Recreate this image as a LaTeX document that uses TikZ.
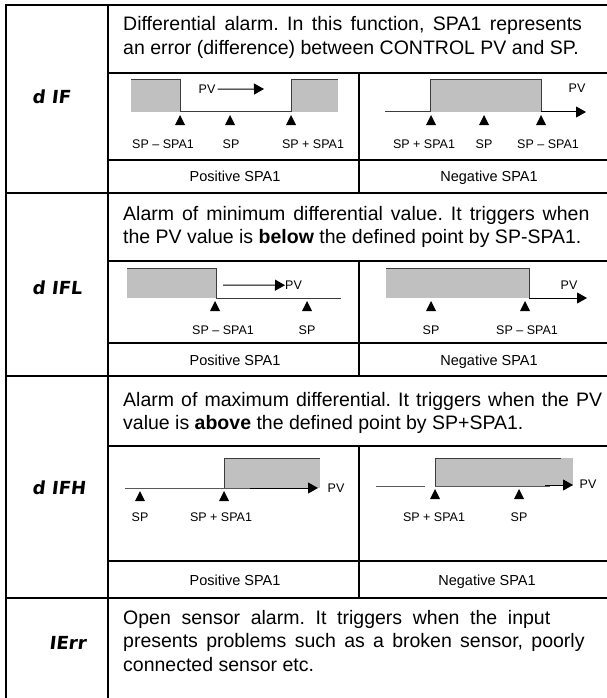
\documentclass[tikz,border=0pt]{standalone}
\usepackage{fontspec}
\setmainfont{Liberation Sans}
\newfontfamily\segfont[FakeSlant=0.12]{DejaVu Sans}
\usetikzlibrary{arrows.meta}

\definecolor{bandgray}{RGB}{192,192,192}
\definecolor{stepline}{RGB}{60,60,60}

% settings for the fully justified description paragraphs
\newcommand\justsetup{\frenchspacing\tolerance=10000\relax\hbadness=10000\relax
  \leftskip=0pt\relax\rightskip=0pt\relax\parfillskip=0pt plus 1fil\relax
  \spaceskip=0pt\relax\xspaceskip=0pt\relax}

\begin{document}
\begin{tikzpicture}[x=1pt,y=-1pt,
  tablerule/.style={line width=2pt},
  bandfill/.style={fill=bandgray},
  stepln/.style={draw=stepline, line width=1pt},
  baseln/.style={draw=stepline!85, line width=0.8pt},
  pvarrow/.style={draw=black, line width=1pt, -{Triangle[length=10pt,width=11pt]}},
  desctext/.style={anchor=base west, inner sep=0pt, text width=503pt,
    font=\fontsize{19.5}{23.5}\selectfont},
  ticklbl/.style={anchor=base, inner sep=0pt, font=\fontsize{12.5}{14}\selectfont},
  signlbl/.style={anchor=base, inner sep=0pt, font=\fontsize{14.5}{16}\selectfont},
  codelbl/.style={anchor=base west, inner sep=0pt, font=\segfont\bfseries\fontsize{18}{20}\selectfont},
  pics/tri/.style={code={\fill (-5,10) -- (0,0) -- (5,10) -- cycle;}}
]
\useasboundingbox (0,0) rectangle (606,698);

% ---- table rules ----
\draw[tablerule] (6,710) -- (6,5) -- (620,5);
\draw[tablerule] (108,5) -- (108,710);
\draw[tablerule] (6,193) -- (620,193);
\draw[tablerule] (6,376) -- (620,376);
\draw[tablerule] (6,598) -- (620,598);
% row dIF
\draw[tablerule] (108,73) -- (620,73);
\draw[tablerule] (108,160) -- (620,160);
\draw[tablerule] (359,73) -- (359,193);
% row dIFL
\draw[tablerule] (108,261) -- (620,261);
\draw[tablerule] (108,343) -- (620,343);
\draw[tablerule] (359,261) -- (359,376);
% row dIFH
\draw[tablerule] (108,446) -- (620,446);
\draw[tablerule] (108,561) -- (620,561);
\draw[tablerule] (359,446) -- (359,598);

% ---- function codes ----
\node[codelbl] (codeA) at (32,103.5) {d IF};
\node[codelbl] (codeB) at (32,294.5) {d IFL};
\node[codelbl] (codeC) at (32,494.5) {d IFH};
\node[codelbl] (codeD) at (49,649.5) {IErr};

% ---- descriptions ----
\node[desctext] (descA) at (123,31) {\justsetup Differential alarm. In this function, SPA1 represents\linebreak an error (difference) between CONTROL PV and SP.};
\node[desctext] (descB) at (123,220) {\justsetup Alarm of minimum differential value. It triggers when\linebreak the PV value is \textbf{below} the defined point by SP-SPA1.};
\node[desctext] (descC) at (123,406) {\justsetup Alarm of maximum differential. It triggers when the PV\linebreak value is \textbf{above} the defined point by SP+SPA1.};
\node[desctext] (descD) at (123,624) {\justsetup Open sensor alarm. It triggers when the input\linebreak presents problems such as a broken sensor, poorly\linebreak connected sensor etc.};

% ---- dIF, positive SPA1 ----
\fill[bandfill] (131,80) rectangle (180,112);
\fill[bandfill] (291,80) rectangle (338,112);
\draw[stepln] (131,80) -- (180,80) -- (180,112) -- (291,112) -- (291,80) -- (338,80);
\node[ticklbl] (pvA) at (207,93.5) {PV};
\draw[pvarrow] ([xshift=2pt]pvA.east) -- (264,89);
\pic at (180,115) {tri};
\pic at (230,115) {tri};
\pic at (291,115) {tri};
\node[ticklbl] (tA1) at (163,148.5) {SP – SPA1};
\node[ticklbl] (tA2) at (231,148.5) {SP};
\node[ticklbl] (tA3) at (313,148.5) {SP + SPA1};
% ---- dIF, negative SPA1 ----
\fill[bandfill] (430,80) rectangle (541,112);
\draw[stepln] (385,112) -- (430,112) -- (430,80) -- (541,80) -- (541,112);
\draw[pvarrow] (541,112) -- (586,112);
\node[ticklbl] (pvB) at (577,92.5) {PV};
\pic at (431,115) {tri};
\pic at (484,115) {tri};
\pic at (541,115) {tri};
\node[ticklbl] (tB1) at (424,148.5) {SP + SPA1};
\node[ticklbl] (tB2) at (484,148.5) {SP};
\node[ticklbl] (tB3) at (548,148.5) {SP – SPA1};
\node[signlbl] (sA) at (235,181) {Positive SPA1};
\node[signlbl] (sB) at (489,181) {Negative SPA1};

% ---- dIFL, positive SPA1 ----
\fill[bandfill] (127,268) rectangle (216,298);
\draw[stepln] (127,268) -- (216,268) -- (216,298) -- (341,298);
\node[ticklbl, anchor=base west] (pvC) at (285,289.5) {PV};
\draw[pvarrow] (223,285) -- (pvC.west);
\pic at (215,301) {tri};
\pic at (307,301) {tri};
\node[ticklbl] (tC1) at (223,334.5) {SP – SPA1};
\node[ticklbl] (tC2) at (307,334.5) {SP};
% ---- dIFL, negative SPA1 ----
\fill[bandfill] (386,268) rectangle (529,298);
\draw[stepln] (386,268) -- (529,268) -- (529,298);
\draw[pvarrow] (529,298) -- (587,298);
\node[ticklbl] (pvD) at (569,289.5) {PV};
\pic at (431,301) {tri};
\pic at (525,301) {tri};
\node[ticklbl] (tD1) at (431,334.5) {SP};
\node[ticklbl] (tD2) at (527,334.5) {SP – SPA1};
\node[signlbl] (sC) at (235,365) {Positive SPA1};
\node[signlbl] (sD) at (489,365) {Negative SPA1};

% ---- dIFH, positive SPA1 ----
\fill[bandfill] (224,458) rectangle (320,488);
\draw[baseln] (125,488) -- (250,488);
\draw[stepln] (224,488) -- (224,458) -- (320,458);
\node[ticklbl] (pvE) at (336,492.5) {PV};
\draw[pvarrow] (250,488) -- (318,488);
\pic at (140,491) {tri};
\pic at (224,491) {tri};
\node[ticklbl] (tE1) at (140,521.5) {SP};
\node[ticklbl] (tE2) at (221,521.5) {SP + SPA1};
% ---- dIFH, negative SPA1 ----
\fill[bandfill] (435,458) rectangle (573,486);
\draw[baseln] (376,486) -- (425,486);
\draw[baseln] (435,486) -- (550,486);
\draw[stepln] (435,486) -- (435,458) -- (561,458);
\draw[pvarrow] (545,485) -- (573,485);
\node[ticklbl] (pvF) at (588,488.5) {PV};
\pic at (435,489) {tri};
\pic at (519,489) {tri};
\node[ticklbl] (tF1) at (434,521.5) {SP + SPA1};
\node[ticklbl] (tF2) at (519,521.5) {SP};
\node[signlbl] (sE) at (235,585) {Positive SPA1};
\node[signlbl] (sF) at (487,585) {Negative SPA1};
\end{tikzpicture}
\end{document}
